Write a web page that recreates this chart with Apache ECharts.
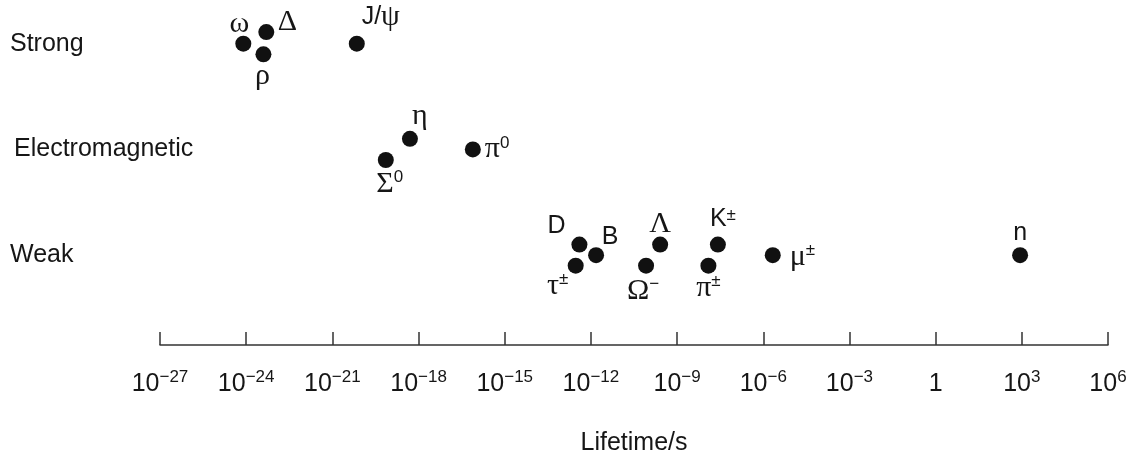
<!DOCTYPE html>
<html>
<head>
<meta charset="utf-8">
<script src="https://cdn.jsdelivr.net/npm/echarts@6/dist/echarts.min.js"></script>
<style>
  html, body { margin: 0; padding: 0; background: #fff; }
  #chart { width: 1141px; height: 456px; }
</style>
</head>
<body>
<div id="chart"></div>
<script>
// particle lifetimes (log10 of seconds)
const particles = ['ω', 'Δ', 'ρ', 'J/ψ', 'Σ', 'η', 'π', 'D', 'τ', 'B', 'Ω', 'Λ', 'π', 'K', 'μ', 'n'];
const superscripts = ['', '', '', '', '0', '', '0', '', '±', '', '−', '', '±', '±', '±', ''];
const logLifetime = [-24.1, -23.3, -23.4, -20.15, -19.14, -18.3, -16.11, -12.4, -12.53, -11.82, -10.08, -9.59, -7.91, -7.58, -5.67, 2.94];
// row: 2 = strong, 1 = electromagnetic, 0 = weak (small shifts keep dots apart)
const rowValue = [2, 2.11, 1.9, 2, 0.9, 1.1, 1.0, 0.1, -0.1, 0, -0.1, 0.1, -0.1, 0.1, 0, 0];
const interactions = ['Weak', 'Electromagnetic', 'Strong'];

// where each label sits relative to its dot (px)
const labelPlace = [
  [-4, -20], [21, -10], [-1, 22], [24, -27], [4, 24], [10, -23], [12, 0, 'left'],
  [-23, -18], [-18, 20], [14, -18], [-3, 25], [0, -20], [0, 22], [5, -25],
  [17, 2, 'left'], [0, -22]
];

const greek = 'ωΔρψΣηπτΩΛμ';

function richName(name, sup) {
  let out = '';
  for (const ch of name) {
    if (greek.includes(ch)) out += '{g|' + ch + '}';
    else out += '{t|' + ch + '}';
  }
  if (sup) out += '{s|' + sup + '}';
  return out;
}

const points = particles.map((p, i) => ({
  value: [logLifetime[i], rowValue[i]],
  name: richName(p, superscripts[i]),
  label: {
    offset: [labelPlace[i][0], labelPlace[i][1]],
    align: labelPlace[i][2] || 'center'
  }
}));

const chart = echarts.init(document.getElementById('chart'));
const sans = 'Liberation Sans, Arial, Helvetica, sans-serif';
const serif = 'Liberation Serif, Times New Roman, serif';
const ink = '#161616';

chart.setOption({
  backgroundColor: '#ffffff',
  animation: false,
  grid: { left: 160, right: 33, top: 12, bottom: 111, outerBoundsMode: 'none' },
  xAxis: {
    type: 'value',
    min: -27,
    max: 6,
    interval: 3,
    name: 'Lifetime/s',
    nameLocation: 'middle',
    nameGap: 86,
    nameTextStyle: { fontFamily: sans, fontSize: 25, color: ink },
    axisLine: { show: true, onZero: false, lineStyle: { color: '#333', width: 1.5 } },
    axisTick: { show: true, inside: true, length: 13, lineStyle: { color: '#333', width: 1.5 } },
    splitLine: { show: false },
    axisLabel: {
      margin: 24,
      showMinLabel: true,
      showMaxLabel: true,
      formatter: v => (v === 0 ? '{b|1}' : '{b|10}{s|' + String(v).replace('-', '−') + '}'),
      rich: {
        b: { fontFamily: sans, fontSize: 25, color: ink, lineHeight: 30 },
        s: { fontFamily: sans, fontSize: 17, color: ink, lineHeight: 18, verticalAlign: 'top' }
      }
    }
  },
  yAxis: {
    type: 'value',
    min: -0.85,
    max: 2.3,
    axisLine: { show: false },
    axisTick: { show: false },
    splitLine: { show: false },
    axisLabel: {
      customValues: [0, 1, 2],
      margin: 150,
      align: 'left',
      fontFamily: sans,
      fontSize: 25,
      color: ink,
      formatter: v => (v === 1 ? '{e|' + interactions[1] + '}' : interactions[Math.round(v)]),
      rich: {
        e: { fontFamily: sans, fontSize: 25, color: ink, padding: [0, 0, 0, 4] }
      }
    }
  },
  series: [{
    type: 'scatter',
    symbol: 'circle',
    symbolSize: 16,
    itemStyle: { color: '#111', opacity: 1 },
    label: {
      show: true,
      position: 'inside',
      verticalAlign: 'middle',
      formatter: p => p.name,
      rich: {
        t: { fontFamily: sans, fontSize: 25, color: ink },
        g: { fontFamily: serif, fontSize: 30, color: ink },
        s: { fontFamily: sans, fontSize: 17, color: ink, verticalAlign: 'top', lineHeight: 16 }
      }
    },
    data: points
  }]
});
</script>
</body>
</html>
